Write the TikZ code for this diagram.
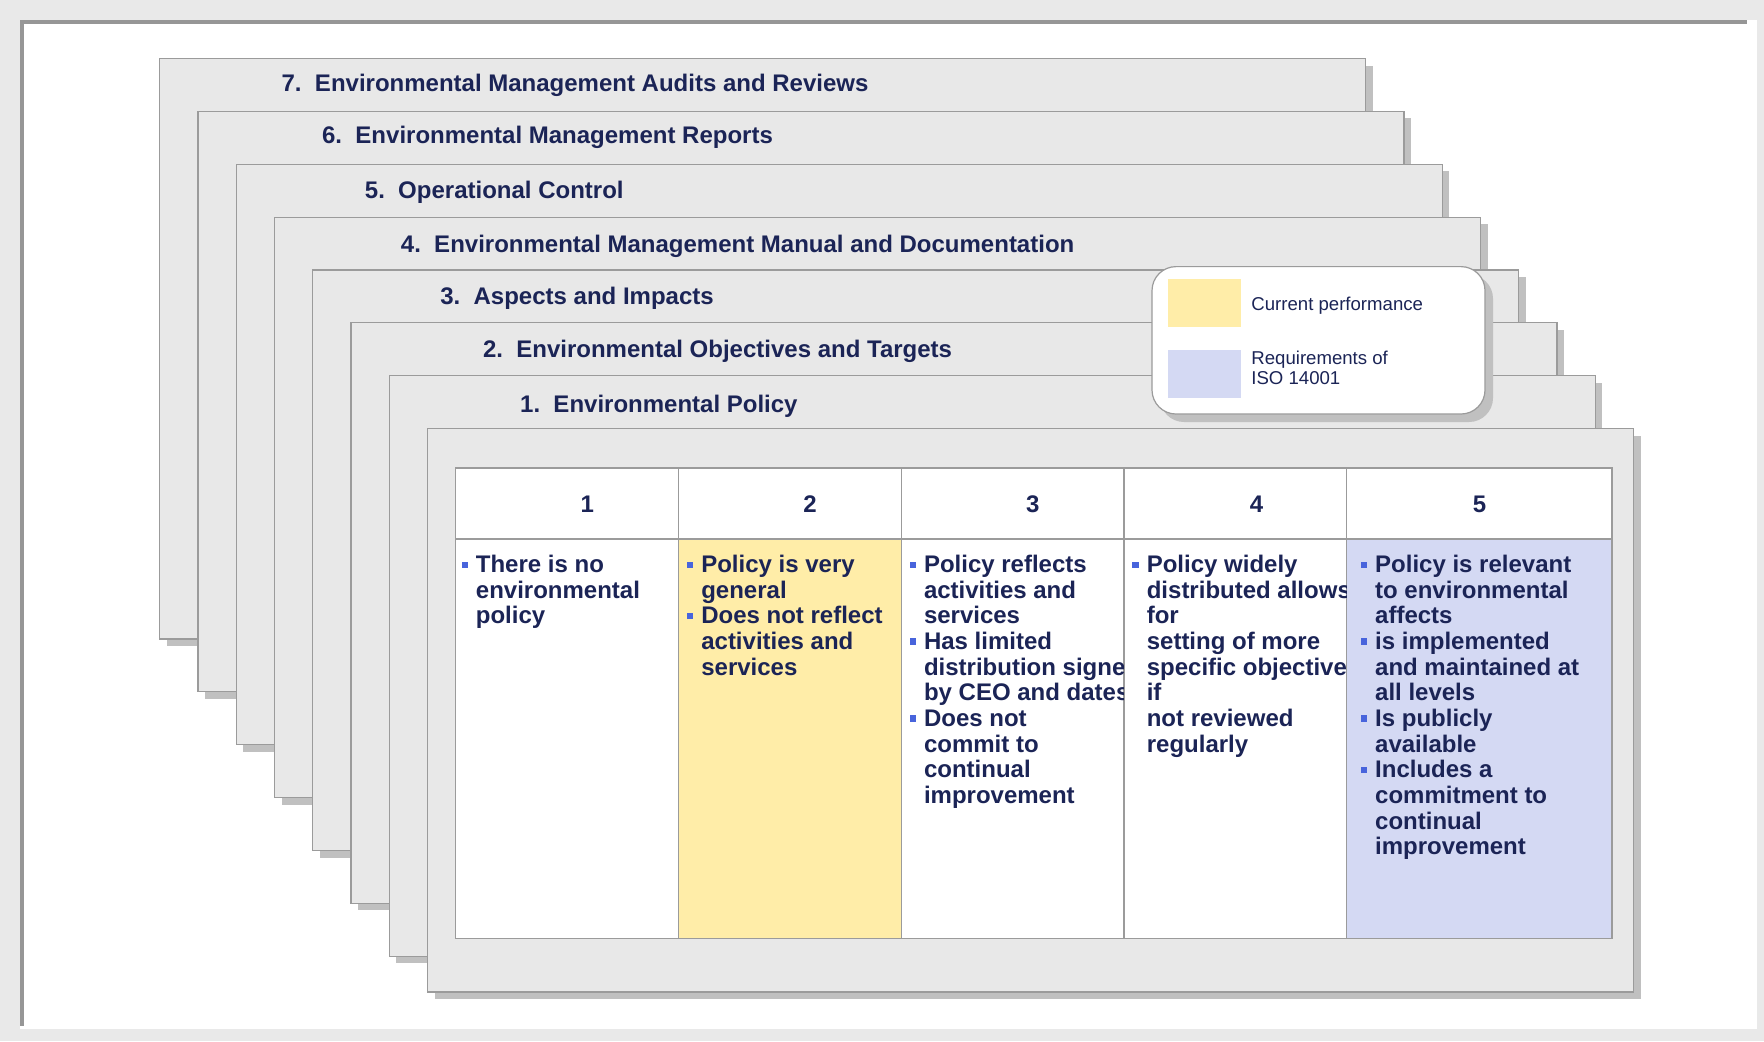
\documentclass[tikz,border=0pt]{standalone}
\usepackage{fontspec}
\setmainfont{Liberation Sans}

\definecolor{navy}{RGB}{27,36,86}
\definecolor{bggray}{RGB}{233,233,233}
\definecolor{framegray}{RGB}{150,150,150}
\definecolor{sheetgray}{RGB}{232,232,232}
\definecolor{shadowgray}{RGB}{192,192,192}
\definecolor{edgegray}{RGB}{155,155,155}
\definecolor{perfyellow}{RGB}{255,237,168}
\definecolor{isoblue}{RGB}{212,217,243}
\definecolor{bulletblue}{RGB}{72,100,220}

\newcommand{\sqbul}{\llap{\textcolor{bulletblue}{\rule[2.3pt]{3.2pt}{3.2pt}}\hspace{4pt}}}

\tikzset{
  sheet/.style={fill=sheetgray, draw=edgegray, line width=0.6pt},
  sheetshadow/.style={fill=shadowgray, shift={(7,7)}},
  edge/.style={draw=edgegray, line width=0.6pt},
  title/.style={font=\bfseries\fontsize{12}{14}\selectfont, text=navy, anchor=base west, inner sep=0pt},
  num/.style={font=\bfseries\fontsize{12}{14}\selectfont, text=navy, anchor=base, inner sep=0pt},
  cell/.style={font=\bfseries\fontsize{12}{12.825}\selectfont, text=navy, align=left, anchor=north west, inner sep=0pt},
  legendtext/.style={font=\fontsize{9.3}{10.125}\selectfont, text=navy, align=left, anchor=north west, inner sep=0pt}
}

\begin{document}
\begin{tikzpicture}[x=0.5pt,y=-0.5pt]

  \useasboundingbox (0,0) rectangle (1764,1041);
  \fill[bggray] (0,0) rectangle (1764,1041);
  \fill[white] (20,20) rectangle (1757,1029);
  \fill[framegray] (20,20) rectangle (1747,24);
  \fill[framegray] (20,20) rectangle (24,1026);

  \def\sheetseven{(159.75,58.5) rectangle (1365.75,639)}
  \def\sheetsix{(198,111.375) rectangle (1404,691.875)}
  \def\sheetfive{(236.25,164.25) rectangle (1442.25,744.75)}
  \def\sheetfour{(274.5,217.125) rectangle (1480.5,797.625)}
  \def\sheetthree{(312.75,270) rectangle (1518.75,850.5)}
  \def\sheettwo{(351,322.875) rectangle (1557,903.375)}
  \def\sheetone{(389.25,375.75) rectangle (1595.25,956.25)}
  \def\sheetfront{(427.5,428.6) rectangle (1633.5,992)}
  \def\tablebox{(455.6,468) rectangle (1612,938.25)}

  \begin{scope}
      \fill[sheetshadow] \sheetseven;
      \filldraw[sheet] \sheetseven;
      \node[title] (t7) at (281.25,91.85) {7.\ \ Environmental Management Audits and Reviews};

      \fill[sheetshadow] \sheetsix;
      \filldraw[sheet] \sheetsix;
      \node[title] (t6) at (321.75,143.6) {6.\ \ Environmental Management Reports};

      \fill[sheetshadow] \sheetfive;
      \filldraw[sheet] \sheetfive;
      \node[title] (t5) at (364.5,198.6) {5.\ \ Operational Control};

      \fill[sheetshadow] \sheetfour;
      \filldraw[sheet] \sheetfour;
      \node[title] (t4) at (400.5,252.6) {4.\ \ Environmental Management Manual and Documentation};

      \fill[sheetshadow] \sheetthree;
      \filldraw[sheet] \sheetthree;
      \node[title] (t3) at (439.9,304.6) {3.\ \ Aspects and Impacts};

      \fill[sheetshadow] \sheettwo;
      \filldraw[sheet] \sheettwo;
      \node[title] (t2) at (482.6,357.35) {2.\ \ Environmental Objectives and Targets};

      \fill[sheetshadow] \sheetone;
      \filldraw[sheet] \sheetone;
      \node[title] (t1) at (519.75,412.6) {1.\ \ Environmental Policy};

      \fill[sheetshadow] \sheetfront;
      \filldraw[sheet] \sheetfront;
  \end{scope}

  \fill[white] \tablebox;
  \fill[perfyellow] (678.4,538.9) rectangle (901.1,938.25);
  \fill[isoblue] (1346.6,538.9) rectangle (1612,938.25);
  \draw[edge] \tablebox;
  \draw[edge] (455.6,538.9) -- (1612,538.9);
  \draw[edge] (678.4,468) -- (678.4,938.25);
  \draw[edge] (901.1,468) -- (901.1,938.25);
  \draw[edge] (1123.9,468) -- (1123.9,938.25);
  \draw[edge] (1346.6,468) -- (1346.6,938.25);

  \node[num] (h1) at (587.25,512.6) {1};
  \node[num] (h2) at (810,512.6) {2};
  \node[num] (h3) at (1032.75,512.6) {3};
  \node[num] (h4) at (1256.6,512.6) {4};
  \node[num] (h5) at (1479.4,512.6) {5};

  \node[cell] (c1) at (475.5,554.7) {\sqbul There is no\\environmental\\policy};
  \node[cell] (c2) at (700.9,554.7) {\sqbul Policy is very\\general\\\sqbul Does not reflect\\activities and\\services};
  \begin{scope}
      \clip (901.1,538.9) rectangle (1123.9,938.25);
      \node[cell] (c3) at (923.6,554.7) {\sqbul Policy reflects\\activities and\\services\\\sqbul Has limited\\distribution signe\\by CEO and dates\\\sqbul Does not\\commit to\\continual\\improvement};
  \end{scope}
  \begin{scope}
      \clip (1123.9,538.9) rectangle (1346.6,938.25);
      \node[cell] (c4) at (1146.4,554.7) {\sqbul Policy widely\\distributed allows\\for\\setting of more\\specific objective\\if\\not reviewed\\regularly};
  \end{scope}
  \node[cell] (c5) at (1374.75,554.7) {\sqbul Policy is relevant\\to environmental\\affects\\\sqbul is implemented\\and maintained at\\all levels\\\sqbul Is publicly\\available\\\sqbul Includes a\\commitment to\\continual\\improvement};

  \fill[shadowgray, rounded corners=12pt] (1160,274.6) rectangle (1493,422);
  \filldraw[fill=white, draw=edgegray, line width=0.6pt, rounded corners=12pt] (1152,266.6) rectangle (1485,414);
  \fill[perfyellow] (1167.75,279) rectangle (1240.9,327.4);
  \fill[isoblue] (1167.75,350) rectangle (1240.9,398.25);
  \node[legendtext] (lg1) at (1251,297) {Current performance};
  \node[legendtext] (lg2) at (1251,350.8) {Requirements of\\ISO 14001};

\end{tikzpicture}
\end{document}
